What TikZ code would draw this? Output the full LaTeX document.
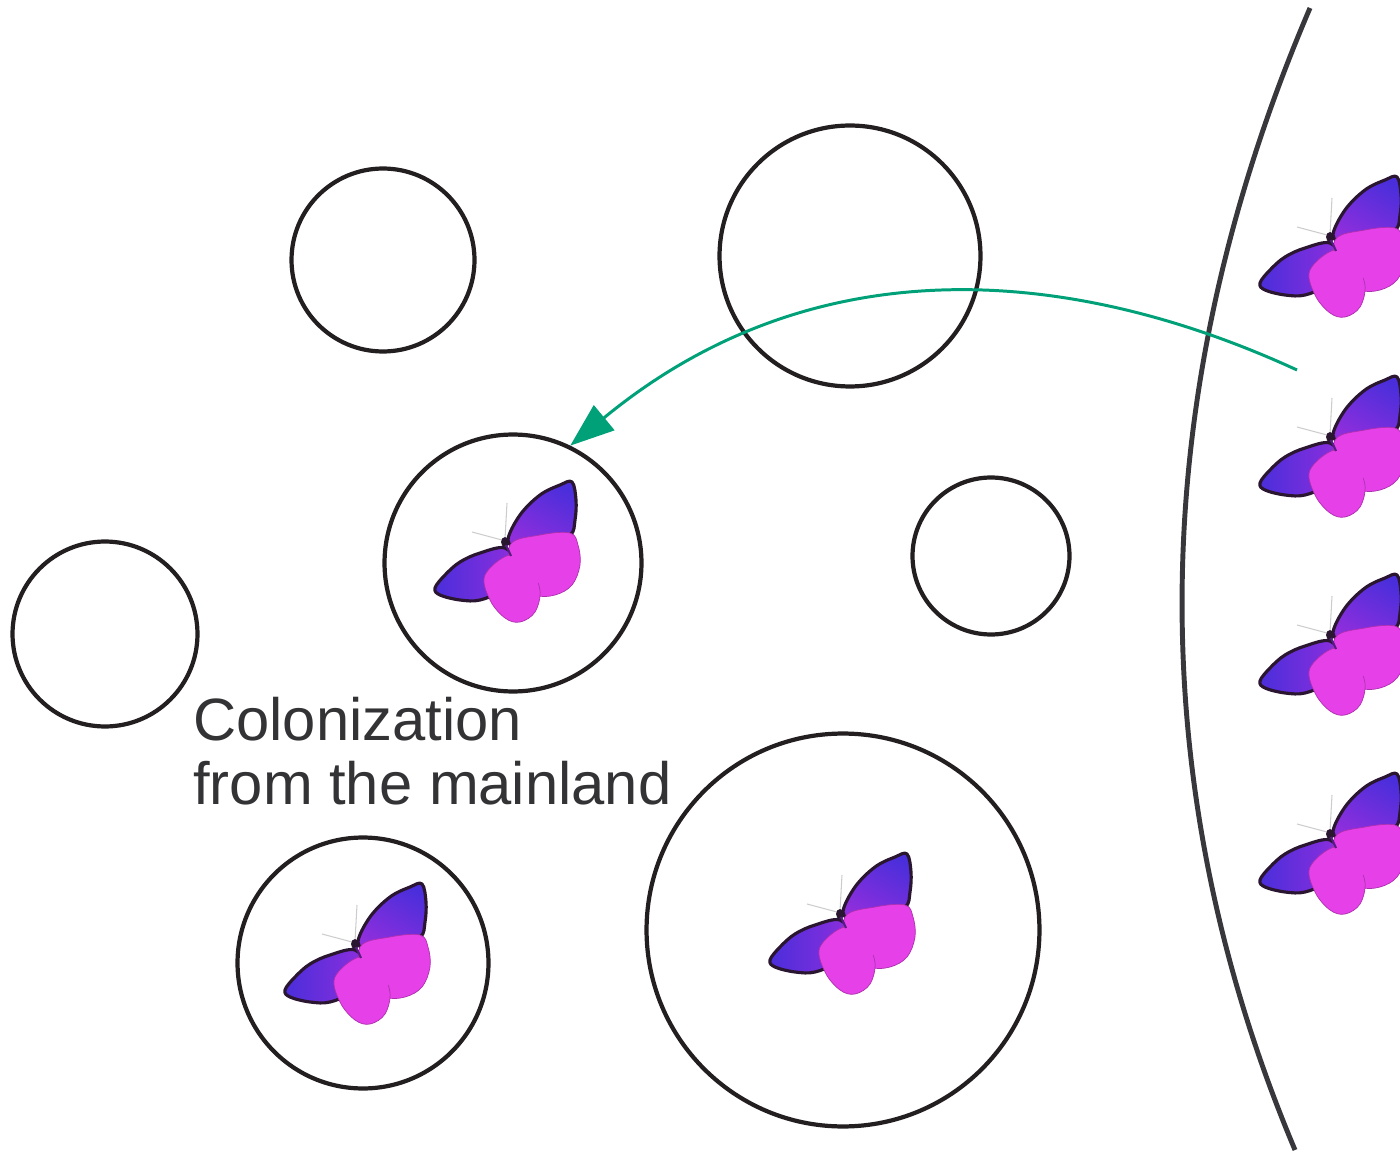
\documentclass[tikz,border=0pt]{standalone}
\usepackage{fontspec}
\setmainfont{Liberation Sans}
\usetikzlibrary{arrows.meta}
\definecolor{ink}{HTML}{231F20}
\definecolor{coast}{HTML}{38383C}
\definecolor{route}{HTML}{00A078}
\definecolor{wingblue}{HTML}{4A2EDB}
\definecolor{wingbase}{HTML}{8E2EDC}
\definecolor{wingpink}{HTML}{E640E8}
\definecolor{wingedge}{HTML}{2A1630}
\definecolor{caption}{HTML}{333336}

\tikzset{
  island/.style={circle, draw=ink, line width=2.4pt, inner sep=0pt, minimum size=#1},
  hindwing/.style={fill=wingpink, draw=wingpink!75!black, line width=0.4pt},
  forewing/.style={draw=wingedge, line width=1.8pt, line join=round},
  butterfly/.pic={
    % forewings (blue, dark rim)
    \path[forewing, top color=wingblue, bottom color=wingbase, shading angle=-30]
      plot[smooth cycle, tension=0.6] coordinates
      {(3,-2) (15,-27) (35,-47) (55,-57) (67,-60) (71,-42) (70,-22) (65,-7) (40,-2) (15,6)};
    \path[forewing, left color=wingblue, right color=wingbase]
      plot[smooth cycle, tension=0.6] coordinates
      {(0,6) (-25,11) (-45,20) (-60,33) (-70,46) (-65,53) (-45,58) (-25,58) (-5,48) (10,23)};
    % hindwings (magenta)
    \path[hindwing]
      plot[smooth cycle, tension=0.6] coordinates
      {(5,3) (35,-7) (65,-9) (73,3) (75,23) (67,43) (50,53) (30,53) (10,38)};
    \path[hindwing]
      plot[smooth cycle, tension=0.6] coordinates
      {(-20,33) (-15,58) (0,76) (15,80) (30,70) (35,48) (25,28) (5,13)};
    \fill[wingpink]
      plot[smooth cycle, tension=0.6] coordinates
      {(8,8) (30,0) (45,10) (30,45) (10,40)};
    % antennae and body
    \draw[black!20, line width=0.6pt] (0,-3) -- (2,-39);
    \draw[black!20, line width=0.6pt] (-3,-2) -- (-33,-10);
    \fill[wingedge] (0,0) ellipse [x radius=4, y radius=5];
    \draw[wingbase!60!black, line width=1.2pt] (1,3) -- (6,14);
  }
}

\begin{document}
\begin{tikzpicture}[x=0.02cm, y=-0.02cm]
  \useasboundingbox (0,0) rectangle (1400,1155);
  \clip (0,0) rectangle (1400,1155);

  % islands
  \node[island=3.66cm] (isl1) at (383,260) {};
  \node[island=5.22cm] (isl2) at (850,256) {};
  \node[island=5.14cm] (isl3) at (513,563) {};
  \node[island=3.14cm] (isl4) at (991,556) {};
  \node[island=3.70cm] (isl5) at (105,634) {};
  \node[island=5.02cm] (isl6) at (363,963) {};
  \node[island=7.86cm] (isl7) at (843,930) {};

  % mainland coast
  \draw[coast, line width=2.8pt] (1310,8) .. controls (1142,400) and (1142,787) .. (1295,1150);

  % butterflies on the mainland
  \pic at (1330,237) {butterfly};
  \pic at (1330,437) {butterfly};
  \pic at (1330,635) {butterfly};
  \pic at (1330,834) {butterfly};

  % butterflies on colonized islands
  \pic at (505,542) {butterfly};
  \pic at (355,944) {butterfly};
  \pic at (840,914) {butterfly};

  % colonization route
  \coordinate (src) at (1297,370);
  \draw[route, line width=1.7pt, -{Triangle[length=0.88cm, width=0.64cm]}]
    (src) .. controls (1080,270) and (820,240) .. (isl3.64);

  \node[anchor=north west, inner sep=0pt, align=left, text=caption,
        font=\fontsize{34}{36.3}\selectfont] (label) at (193,697)
        {Colonization\\from the mainland};
\end{tikzpicture}
\end{document}
